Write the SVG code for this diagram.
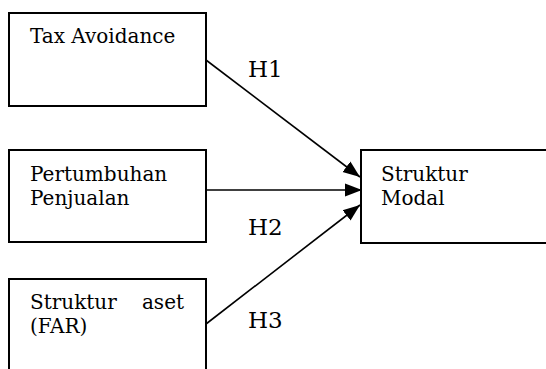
<svg xmlns="http://www.w3.org/2000/svg" width="546" height="369" viewBox="0 0 546 369">
  <defs>
    <style>
      .box { fill: #ffffff; stroke: #000000; stroke-width: 2; }
      .lbl { font-family: "DejaVu Serif", "Liberation Serif", serif; font-size: 20px; fill: #000000; }
      .hyp { font-family: "DejaVu Serif", "Liberation Serif", serif; font-size: 23px; fill: #000000; }
      .conn { stroke: #000000; stroke-width: 1.6; fill: none; marker-end: url(#arrow); }
    </style>
    <marker id="arrow" markerUnits="userSpaceOnUse" markerWidth="18" markerHeight="16" refX="17" refY="8" orient="auto">
      <path d="M0,1.5 L17,8 L0,14.5 Z" fill="#000000"/>
    </marker>
  </defs>
  <rect width="546" height="369" fill="#ffffff"/>

  <g id="node-tax-avoidance">
    <rect class="box" x="9" y="13" width="197" height="93"/>
    <text class="lbl" x="30" y="43">Tax Avoidance</text>
  </g>

  <g id="node-pertumbuhan-penjualan">
    <rect class="box" x="9" y="150" width="197" height="92"/>
    <text class="lbl" x="30" y="181">Pertumbuhan</text>
    <text class="lbl" x="30" y="205">Penjualan</text>
  </g>

  <g id="node-struktur-aset">
    <rect class="box" x="9" y="279" width="197" height="110"/>
    <text class="lbl" x="30" y="309">Struktur</text>
    <text class="lbl" x="184" y="309" text-anchor="end">aset</text>
    <text class="lbl" x="30" y="333">(FAR)</text>
  </g>

  <g id="node-struktur-modal">
    <rect class="box" x="361" y="150" width="200" height="93"/>
    <text class="lbl" x="381" y="181">Struktur</text>
    <text class="lbl" x="381" y="205">Modal</text>
  </g>

  <g id="connectors">
    <line class="conn" x1="206" y1="60" x2="360" y2="177"/>
    <line class="conn" x1="206" y1="190" x2="362" y2="190"/>
    <line class="conn" x1="206" y1="324" x2="360" y2="205"/>
    <text class="hyp" x="248" y="77">H1</text>
    <text class="hyp" x="248" y="235">H2</text>
    <text class="hyp" x="248" y="328">H3</text>
  </g>
</svg>
